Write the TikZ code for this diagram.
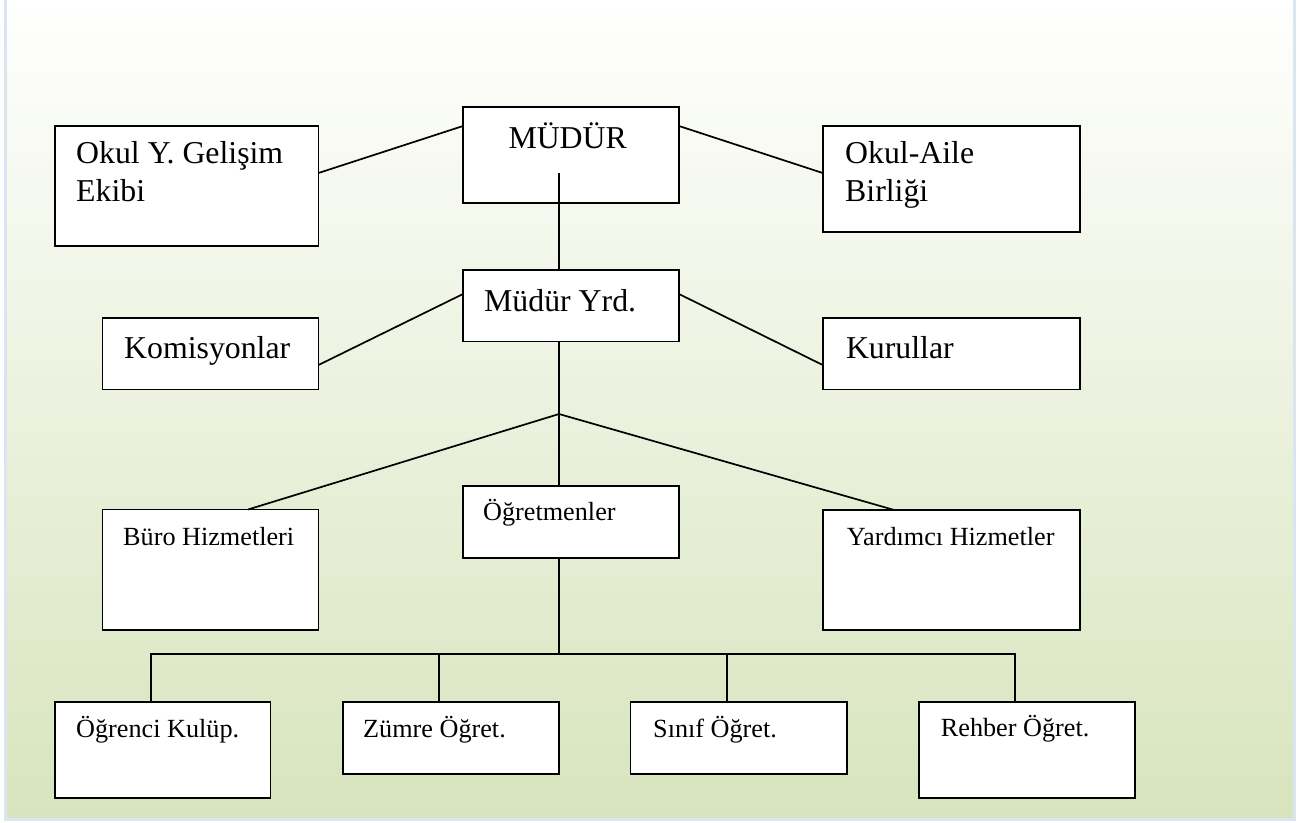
\documentclass[tikz,border=0pt]{standalone}
\usepackage{fontspec}
\setmainfont{Liberation Serif}
\definecolor{bggreen}{RGB}{216,228,189}
\definecolor{framebl}{RGB}{219,229,241}
\begin{document}
\begin{tikzpicture}[x=1pt,y=-1pt,
  box/.style={draw=black, line width=1.9pt, fill=white, rectangle, inner sep=0pt, outer sep=0pt},
  big/.style={font=\fontsize{31.8}{38}\selectfont, anchor=base west, inner sep=0pt},
  small/.style={font=\fontsize{26.2}{31}\selectfont, anchor=base west, inner sep=0pt},
  conn/.style={line width=1.7pt, draw=black}]
\useasboundingbox (0,0) rectangle (1311,822);
\clip (0,0) rectangle (1311,822);
\fill[white] (0,0) rectangle (1311,822);
\shade[top color=white, bottom color=bggreen] (5.5,-5) rectangle (1294.5,819.3);
\draw[framebl, line width=3pt] (5.5,-5) -- (5.5,819.3) -- (1294.5,819.3) -- (1294.5,-5);

% boxes
\node[box, minimum width=263.5pt, minimum height=120pt] (okul) at (186.75,186) {};
\node[box, minimum width=216pt, minimum height=96pt] (mudur) at (571,155) {};
\node[box, minimum width=257.3pt, minimum height=106pt] (aile) at (951.35,179) {};
\node[box, minimum width=216pt, minimum height=71.5pt] (komis) at (210.5,353.75) {};
\node[box, minimum width=216pt, minimum height=71.5pt] (yrd) at (571,305.75) {};
\node[box, minimum width=257.3pt, minimum height=71.5pt] (kurul) at (951.35,353.75) {};
\node[box, minimum width=216pt, minimum height=120.5pt] (buro) at (210.5,569.75) {};
\node[box, minimum width=216pt, minimum height=72pt] (ogret) at (571,522) {};
\node[box, minimum width=257.3pt, minimum height=120pt] (yard) at (951.35,569.75) {};
\node[box, minimum width=215.5pt, minimum height=96pt] (ogrenci) at (162.75,750) {};
\node[box, minimum width=216pt, minimum height=72pt] (zumre) at (451,738) {};
\node[box, minimum width=216.2pt, minimum height=72pt] (sinif) at (738.6,738) {};
\node[box, minimum width=216pt, minimum height=96pt] (rehber) at (1027,750) {};

% texts
\node[big] (t-okul1) at (76,163) {Okul Y. Gelişim};
\node[big] (t-okul2) at (76,201.7) {Ekibi};
\node[big] (t-mudur) at (508.3,148) {MÜDÜR};
\node[big] (t-aile1) at (845,163) {Okul-Aile};
\node[big] (t-aile2) at (845,201.7) {Birliği};
\node[big] (t-komis) at (124,358) {Komisyonlar};
\node[big] (t-yrd) at (484,311) {Müdür Yrd.};
\node[big] (t-kurul) at (845.8,358) {Kurullar};
\node[small] (t-buro) at (123,545) {Büro Hizmetleri};
\node[small] (t-ogret) at (483,520.7) {Öğretmenler};
\node[small] (t-yard) at (846.7,545) {Yardımcı Hizmetler};
\node[small] (t-ogrenci) at (76,737) {Öğrenci Kulüp.};
\node[small] (t-zumre) at (363,737) {Zümre Öğret.};
\node[small] (t-sinif) at (653,737) {Sınıf Öğret.};
\node[small] (t-rehber) at (940.7,736.7) {Rehber Öğret.};

% connector points
\coordinate (mudin) at (559,173);
\coordinate (junc) at (559,414);
\coordinate (b1) at (150.7,654);
\coordinate (b2) at (439,654);
\coordinate (b3) at (727,654);
\coordinate (b4) at (1015,654);

% connectors
\draw[conn] ([yshift=13pt]okul.east) -- ([yshift=29pt]mudur.west);
\draw[conn] ([yshift=29pt]mudur.east) -- ([yshift=6pt]aile.west);
\draw[conn] (mudin) -- (mudin |- yrd.north);
\draw[conn] ([yshift=-11.25pt]komis.east) -- ([yshift=11.75pt]yrd.west);
\draw[conn] ([yshift=11.75pt]yrd.east) -- ([yshift=-11.25pt]kurul.west);
\draw[conn] (junc |- yrd.south) -- (junc) -- (junc |- ogret.north);
\draw[conn] (junc) -- ([xshift=37.5pt]buro.north);
\draw[conn] (junc) -- ([xshift=-58pt]yard.north);
\draw[conn] (junc |- ogret.south) -- (junc |- b1);
\draw[conn] (b1 |- ogrenci.north) -- (b1) -- (b4) -- (b4 |- rehber.north);
\draw[conn] (b2) -- (b2 |- zumre.north);
\draw[conn] (b3) -- (b3 |- sinif.north);
\end{tikzpicture}
\end{document}
